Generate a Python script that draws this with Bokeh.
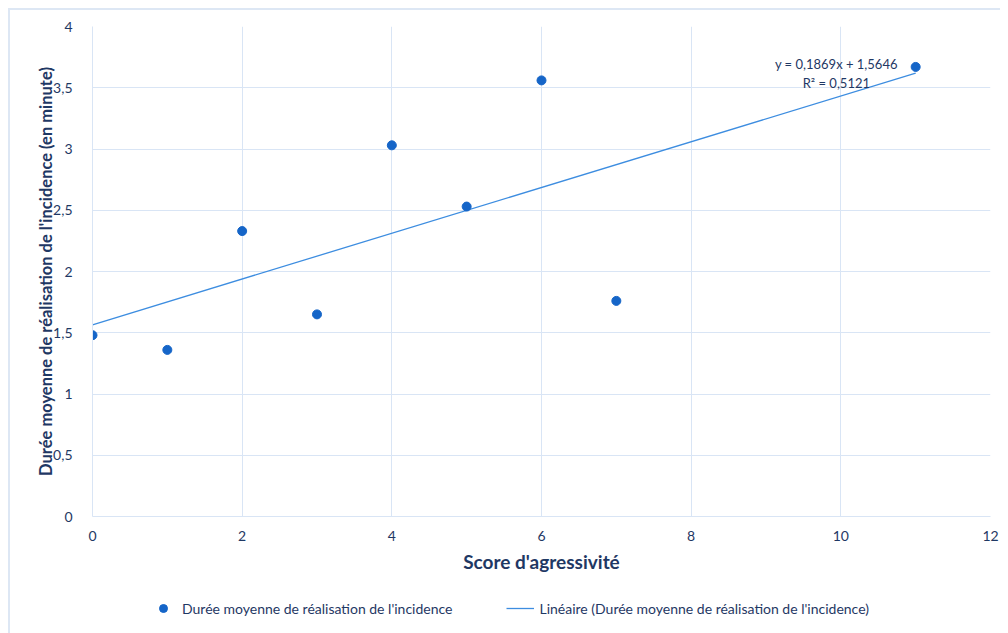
import numpy as np
from bokeh.plotting import figure
from bokeh.layouts import column
from bokeh.models import (ColumnDataSource, Range1d, FixedTicker, CustomJSTickFormatter,
                          Legend, LegendItem, Label)
from bokeh.embed import file_html
from bokeh.resources import INLINE

score = [0, 1, 2, 3, 4, 5, 6, 7, 11]
duree = [1.48, 1.36, 2.33, 1.65, 3.03, 2.53, 3.56, 1.76, 3.67]
x_ticks = [0, 2, 4, 6, 8, 10, 12]
y_ticks = [0, 0.5, 1, 1.5, 2, 2.5, 3, 3.5, 4]
eq_text = "y = 0,1869x + 1,5646"
r2_text = "R² = 0,5121"
series_name = "Durée moyenne de réalisation de l'incidence"
trend_name = "Linéaire (Durée moyenne de réalisation de l'incidence)"

FONT = "Lato"
TXT = "#1f3864"
GRID = "#d9e5f5"
PT = "#1565c8"
LN = "#3d8de0"
BORDER = "#dde7f4"

slope, intercept = np.polyfit(score, duree, 1)
tx = [min(score), max(score)]
ty = [intercept + slope * v for v in tx]

p = figure(width=990, height=575, output_backend="svg", toolbar_location=None,
           x_range=Range1d(0, 12), y_range=Range1d(0, 4),
           min_border_left=82, min_border_right=10, min_border_top=16, min_border_bottom=69)
p.outline_line_color = None
p.background_fill_color = "white"

for ax in (p.xaxis[0], p.yaxis[0]):
    ax.axis_line_color = GRID
    ax.major_tick_line_color = None
    ax.minor_tick_line_color = None
    ax.major_label_text_font = FONT
    ax.major_label_text_font_size = "14px"
    ax.major_label_text_color = TXT
    ax.axis_label_text_font = FONT
    ax.axis_label_text_font_style = "bold"
    ax.axis_label_text_color = TXT
    ax.formatter = CustomJSTickFormatter(code="return tick.toString().replace('.', ',');")

p.xaxis.ticker = FixedTicker(ticks=x_ticks)
p.yaxis.ticker = FixedTicker(ticks=y_ticks)
p.xaxis.axis_label = "Score d'agressivité"
p.yaxis.axis_label = "Durée moyenne de réalisation de l'incidence (en minute)"
p.xaxis.axis_label_text_font_size = "19px"
p.yaxis.axis_label_text_font_size = "16.5px"
p.xaxis.major_label_standoff = 8
p.yaxis.major_label_standoff = 14
p.xaxis.axis_label_standoff = 6
p.yaxis.axis_label_standoff = -6

p.xgrid.ticker = FixedTicker(ticks=x_ticks)
p.ygrid.ticker = FixedTicker(ticks=y_ticks)
p.xgrid.grid_line_color = GRID
p.ygrid.grid_line_color = GRID

src = ColumnDataSource(dict(x=score, y=duree))
trend = ColumnDataSource(dict(x=tx, y=ty))

p.line("x", "y", source=trend, line_color=LN, line_width=1.3)
p.scatter("x", "y", source=src, size=9, fill_color=PT, line_color=PT)

p.add_layout(Label(x=9.94, y=3.69, text=eq_text, text_align="center", text_baseline="middle",
                   text_font=FONT, text_font_size="13px", text_color=TXT))
p.add_layout(Label(x=9.94, y=3.535, text=r2_text, text_align="center", text_baseline="middle",
                   text_font=FONT, text_font_size="13px", text_color=TXT))

# legend strip (its glyphs sit outside the visible range; only the legend shows)
q = figure(width=990, height=48, output_backend="svg", toolbar_location=None,
           x_range=Range1d(0, 1), y_range=Range1d(0, 1),
           x_axis_location=None, y_axis_location=None,
           min_border_left=0, min_border_right=0, min_border_top=0, min_border_bottom=0)
q.grid.visible = False
q.outline_line_color = None
r_pts = q.scatter(x=[-5], y=[-5], size=9, fill_color=PT, line_color=PT)
r_line = q.line(x=[-5, -4], y=[-5, -5], line_color=LN, line_width=1.3)
legend = Legend(items=[LegendItem(label=series_name, renderers=[r_pts]),
                       LegendItem(label=trend_name, renderers=[r_line])],
                orientation="horizontal", location=(57, 15),
                label_text_font=FONT, label_text_font_size="14px", label_text_color=TXT,
                spacing=54, glyph_width=28, background_fill_alpha=0, border_line_color=None)
q.add_layout(legend)

layout = column(p, q, spacing=0,
                styles={"margin-left": "8px", "margin-top": "8px",
                        "border-left": "2px solid " + BORDER, "border-top": "2px solid " + BORDER})
open("out.html", "w").write(file_html(layout, INLINE))
